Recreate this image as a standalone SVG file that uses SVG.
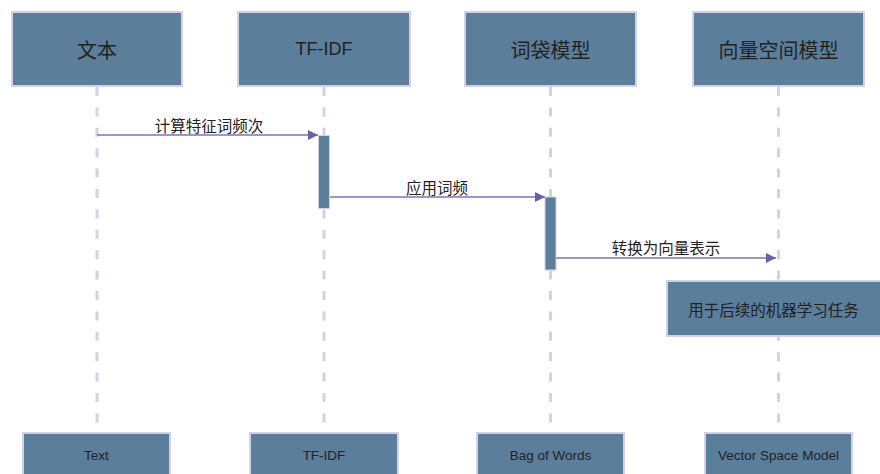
<svg xmlns="http://www.w3.org/2000/svg" width="880" height="474" viewBox="0 0 880 474">
<defs>
<style>
.box{fill:#5b7e9a;stroke:#d3d0e8;stroke-width:2}
.bar{fill:#5b7e9a;stroke:#d3d0e8;stroke-width:1}
.life{stroke:#d3d1e3;stroke-width:3;stroke-dasharray:9 11.4;fill:none}
.msg{stroke:#7d73b3;stroke-width:1.3;fill:none}
.cjk{font-family:"Noto Sans CJK SC","Liberation Sans",sans-serif;fill:#222;text-anchor:middle;dominant-baseline:central}
.lat{font-family:"Liberation Sans","Noto Sans CJK SC",sans-serif;fill:#222;text-anchor:middle;dominant-baseline:central}
.top{font-size:20px}
.lbl{font-size:15.5px}
.bot{font-size:13.5px}
</style>
<marker id="ah" markerWidth="10" markerHeight="10" refX="10" refY="5" orient="auto" markerUnits="userSpaceOnUse">
<path d="M0,0 L10,5 L0,10 Z" fill="#6a5fa8"/>
</marker>
</defs>
<rect width="880" height="474" fill="#ffffff"/>
<g id="lifelines">
<line class="life" x1="97" y1="87" x2="97" y2="424"/>
<line class="life" x1="324" y1="87" x2="324" y2="424"/>
<line class="life" x1="550.5" y1="87" x2="550.5" y2="424"/>
<line class="life" x1="778.5" y1="87" x2="778.5" y2="424"/>
</g>
<g id="node-text-top"><rect class="box" x="12" y="12" width="170" height="74"/><text class="cjk top" x="97" y="49">文本</text></g>
<g id="node-tfidf-top"><rect class="box" x="238" y="12" width="172" height="74"/><text class="lat top" x="324" y="49" style="font-size:18px">TF-IDF</text></g>
<g id="node-bow-top"><rect class="box" x="465" y="12" width="171" height="74"/><text class="cjk top" x="550.5" y="49">词袋模型</text></g>
<g id="node-vsm-top"><rect class="box" x="693" y="12" width="171" height="74"/><text class="cjk top" x="778.5" y="49">向量空间模型</text></g>
<g id="node-text-bot"><rect class="box" x="23" y="433" width="147" height="50"/><text class="lat bot" x="96.5" y="455">Text</text></g>
<g id="node-tfidf-bot"><rect class="box" x="250" y="433" width="148" height="50"/><text class="lat bot" x="324" y="455">TF-IDF</text></g>
<g id="node-bow-bot"><rect class="box" x="477" y="433" width="147" height="50"/><text class="lat bot" x="550.5" y="455">Bag of Words</text></g>
<g id="node-vsm-bot"><rect class="box" x="705" y="433" width="147" height="50"/><text class="lat bot" x="778.5" y="455">Vector Space Model</text></g>
<g id="activation-tfidf"><rect class="bar" x="318.5" y="135.5" width="11" height="73"/></g>
<g id="activation-bow"><rect class="bar" x="545" y="197" width="11" height="73"/></g>
<g id="note"><rect class="box" x="667" y="281" width="220" height="55"/><text class="cjk lbl" x="773.5" y="309">用于后续的机器学习任务</text></g>
<g id="connectors">
<line class="msg" x1="97" y1="135" x2="318" y2="135" marker-end="url(#ah)"/>
<line class="msg" x1="330" y1="197" x2="545" y2="197" marker-end="url(#ah)"/>
<line class="msg" x1="556" y1="258" x2="776" y2="258" marker-end="url(#ah)"/>
</g>
<g id="labels">
<text class="cjk lbl" x="209" y="125">计算特征词频次</text>
<text class="cjk lbl" x="437" y="187">应用词频</text>
<text class="cjk lbl" x="666" y="247">转换为向量表示</text>
</g>
</svg>
